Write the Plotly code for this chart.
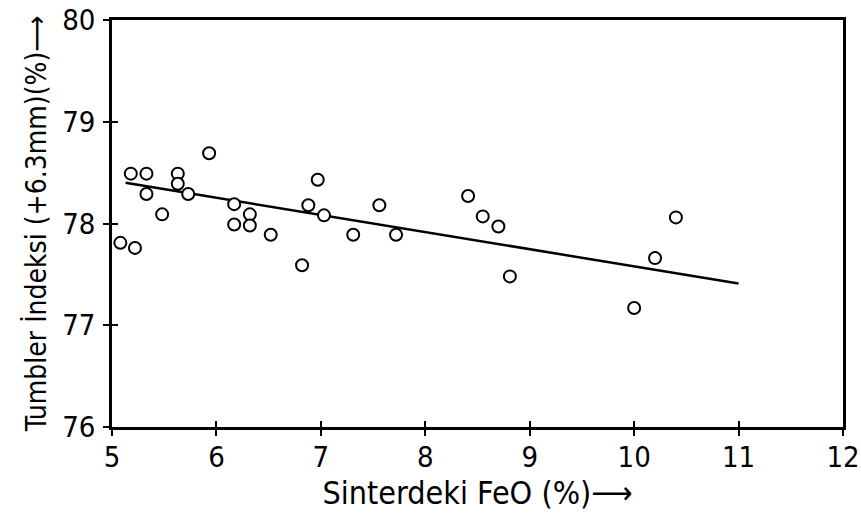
import plotly.graph_objects as go

feo = [5.08, 5.22, 5.18, 5.33, 5.33, 5.48, 5.63, 5.63, 5.73, 5.93, 6.17, 6.17,
       6.32, 6.32, 6.52, 6.82, 6.88, 6.97, 7.03, 7.31, 7.56, 7.72, 8.41, 8.55,
       8.70, 8.81, 10.0, 10.2, 10.4]
tumbler = [77.81, 77.76, 78.49, 78.49, 78.29, 78.09, 78.49, 78.39, 78.29, 78.69,
           78.19, 77.99, 78.09, 77.98, 77.89, 77.59, 78.18, 78.43, 78.08, 77.89,
           78.18, 77.89, 78.27, 78.07, 77.97, 77.48, 77.17, 77.66, 78.06]
fit_x = [5.13, 11.0]
fit_y = [78.40, 77.41]

x_ticks = [5, 6, 7, 8, 9, 10, 11, 12]
y_ticks = [76, 77, 78, 79, 80]

font_main = "DejaVu Sans Condensed, Liberation Sans, DejaVu Sans"

fig = go.Figure()
fig.add_trace(go.Scatter(x=fit_x, y=fit_y, mode="lines",
                         line=dict(color="black", width=2.5), showlegend=False))
fig.add_trace(go.Scatter(x=feo, y=tumbler, mode="markers",
                         marker=dict(symbol="circle", size=12, color="white",
                                     line=dict(color="black", width=2)),
                         showlegend=False))

axis_common = dict(showgrid=False, zeroline=False, showline=True, linecolor="black",
                   linewidth=2.5, tickcolor="black", tickwidth=1.5, ticklen=6,
                   ticks="outside", automargin=False, ticklabeloverflow="allow",
                   tickfont=dict(family=font_main, size=29, color="black"))

fig.update_layout(
    width=861, height=519,
    margin=dict(l=112, r=18, t=20, b=92),
    paper_bgcolor="white", plot_bgcolor="white",
    xaxis=dict(range=[5, 12], tickvals=x_ticks, mirror=True, ticklabelstandoff=-4,
               **axis_common,
               title=dict(text="Sinterdeki FeO (%)⟶",
                          font=dict(family=font_main, size=32, color="black"),
                          standoff=8)),
    yaxis=dict(range=[76, 80], tickvals=y_ticks, mirror=True, ticklabelstandoff=2,
               **axis_common,
               title=dict(text="Tumbler İndeksi (+6.3mm)(%)⟶",
                          font=dict(family=font_main, size=28, color="black"),
                          standoff=8)),
    xaxis2=dict(range=[5, 12], tickvals=x_ticks, overlaying="x", side="bottom",
                showgrid=False, zeroline=False, showline=False, showticklabels=False,
                ticks="inside", ticklen=6, tickwidth=1.5, tickcolor="black", anchor="y"),
    yaxis2=dict(range=[76, 80], tickvals=y_ticks, overlaying="y", side="left",
                showgrid=False, zeroline=False, showline=False, showticklabels=False,
                ticks="inside", ticklen=6, tickwidth=1.5, tickcolor="black", anchor="x"),
)
fig.add_trace(go.Scatter(x=[None], y=[None], xaxis="x2", yaxis="y2", showlegend=False))

fig.write_html("out.html")
